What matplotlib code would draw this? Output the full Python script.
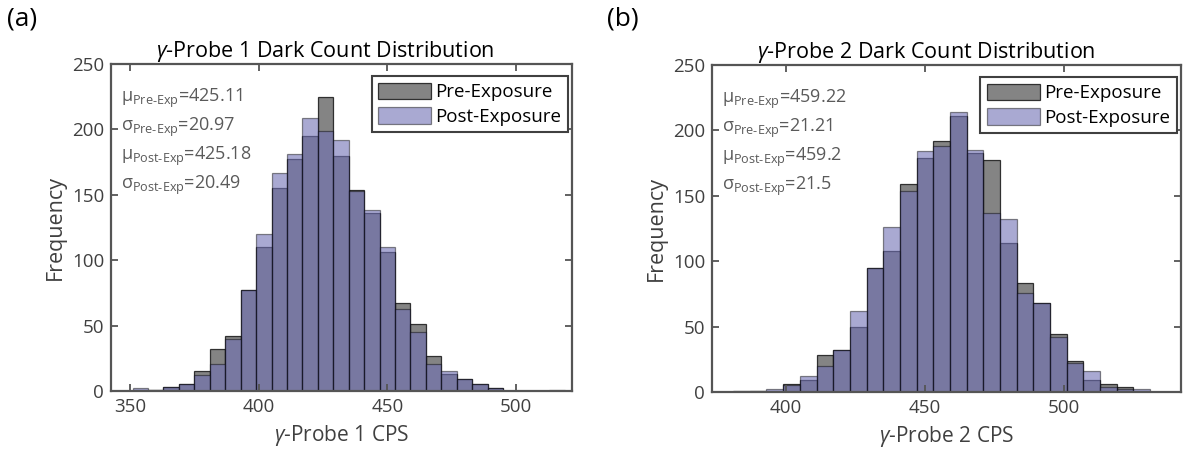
import matplotlib
matplotlib.use("Agg")
import matplotlib.pyplot as plt
import numpy as np

plt.rcParams["font.family"] = ["Open Sans", "DejaVu Sans"]
plt.rcParams["mathtext.fontset"] = "custom"
plt.rcParams["mathtext.rm"] = "Open Sans"
plt.rcParams["mathtext.it"] = "Open Sans:italic"
plt.rcParams["mathtext.bf"] = "Open Sans:bold"

# ---------------------------------------------------------------------------
# Data (bin width 6 CPS, counts)
# ---------------------------------------------------------------------------
BIN_W = 6

p1_start = 351
p1_pre = [1, 1, 3, 5, 15, 32, 42, 77, 110, 155, 177, 195, 225, 180, 154,
          136, 106, 67, 51, 27, 13, 9, 5, 2, 0, 0, 0, 0]
p1_post = [2, 1, 3, 5, 12, 21, 40, 77, 120, 167, 181, 209, 199, 192, 153,
           138, 110, 63, 45, 21, 15, 9, 5, 2, 0, 0, 0, 1]

p2_start = 381
p2_pre = [1, 1, 1, 6, 9, 28, 32, 50, 95, 108, 159, 179, 192, 211, 183,
          177, 114, 83, 68, 44, 24, 9, 6, 4, 1]
p2_post = [0, 1, 2, 5, 12, 20, 32, 62, 95, 126, 154, 184, 188, 214, 185,
           137, 132, 76, 68, 42, 22, 16, 4, 2, 2]

p1_stats = ["425.11", "20.97", "425.18", "20.49"]
p2_stats = ["459.22", "21.21", "459.2", "21.5"]

p1_xticks = [350, 400, 450, 500]
p2_xticks = [400, 450, 500]
yticks = [0, 50, 100, 150, 200, 250]

# ---------------------------------------------------------------------------
# Styling
# ---------------------------------------------------------------------------
PRE_FACE = (0.2, 0.2, 0.2, 0.6)
POST_FACE = (0.44, 0.44, 0.71, 0.6)
EDGE = (0, 0, 0, 0.75)
AXIS_C = "#555555"
TEXT_C = "#404040"
STAT_C = "#5a5a5a"


def draw_panel(ax, start, pre, post, stats, xticks, xlim, probe, title_x):
    edges = start + BIN_W * np.arange(len(pre))
    ax.bar(edges, pre, width=BIN_W, align="edge", facecolor=PRE_FACE,
           edgecolor=EDGE, linewidth=0.9, label="Pre-Exposure")
    ax.bar(edges, post, width=BIN_W, align="edge", facecolor=POST_FACE,
           edgecolor=(0, 0, 0, 0.45), linewidth=0.9, label="Post-Exposure")

    ax.set_xlim(*xlim)
    ax.set_ylim(0, 250)
    ax.set_xticks(xticks)
    ax.set_yticks(yticks)
    ax.tick_params(direction="in", length=5, width=1.3, colors=AXIS_C,
                   labelcolor=TEXT_C, labelsize=13.5, top=True, right=True,
                   pad=5)
    for sp in ax.spines.values():
        sp.set_color(AXIS_C)
        sp.set_linewidth(1.6)

    ax.set_title(r"$\mathit{γ}$-Probe %d Dark Count Distribution" % probe,
                 fontsize=15.5, color="black", x=title_x, pad=5)
    ax.set_xlabel(r"$\mathit{γ}$-Probe %d CPS" % probe, fontsize=15,
                  color=TEXT_C, labelpad=5)
    ax.set_ylabel("Frequency", fontsize=15.5, color=TEXT_C, labelpad=4)

    syms = [r"\mathrm{μ}", r"\mathrm{σ}", r"\mathrm{μ}", r"\mathrm{σ}"]
    subs = ["Pre‐Exp", "Pre‐Exp", "Post‐Exp", "Post‐Exp"]
    ys = [0.896, 0.806, 0.718, 0.630]
    for sym, sub, val, y in zip(syms, subs, stats, ys):
        ax.text(0.022, y, r"$%s_{\mathrm{%s}}$=%s" % (sym, sub, val),
                transform=ax.transAxes, fontsize=13, color=STAT_C,
                va="center", ha="left")

    leg = ax.legend(loc="upper right", bbox_to_anchor=(0.991, 0.963),
                    fontsize=13.5, frameon=True,
                    fancybox=False, framealpha=1, edgecolor="#404040",
                    handlelength=2.8, handleheight=1.0, borderpad=0.35,
                    labelspacing=0.3, handletextpad=0.25,
                    borderaxespad=0.0)
    leg.get_frame().set_linewidth(1.5)


fig = plt.figure(figsize=(11.85, 4.59), dpi=100)
ax1 = fig.add_axes([111 / 1185, 68 / 459, 461 / 1185, 327 / 459])
ax2 = fig.add_axes([712 / 1185, 67 / 459, 469 / 1185, 327 / 459])

draw_panel(ax1, p1_start, p1_pre, p1_post, p1_stats, p1_xticks,
           (342.6, 521.8), 1, 0.464)
draw_panel(ax2, p2_start, p2_pre, p2_post, p2_stats, p2_xticks,
           (373.4, 542.1), 2, 0.456)

fig.text(0.006, 0.958, "(a)", fontsize=19, va="center", ha="left")
fig.text(0.512, 0.958, "(b)", fontsize=19, va="center", ha="left")

fig.savefig("out.png", dpi=100)
